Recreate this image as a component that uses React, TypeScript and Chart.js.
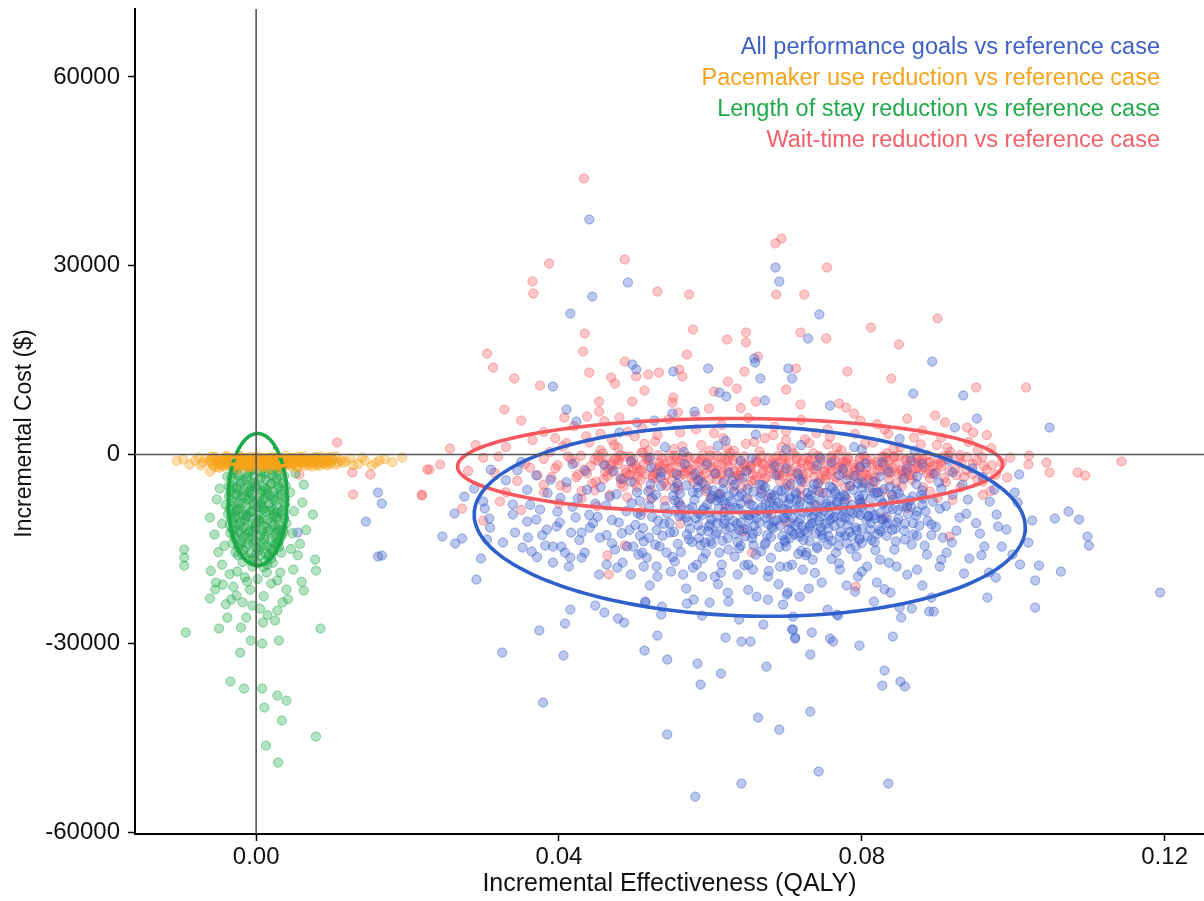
import React, { useEffect, useRef } from "react";
import { Chart, registerables } from "chart.js";

Chart.register(...registerables);

const xTicks = [0, 0.04, 0.08, 0.12];
const yTicks = [-60000, -30000, 0, 30000, 60000];
const xTitle = "Incremental Effectiveness (QALY)";
const yTitle = "Incremental Cost ($)";
const seriesNames = [
  "All performance goals vs reference case",
  "Pacemaker use reduction vs reference case",
  "Length of stay reduction vs reference case",
  "Wait-time reduction vs reference case",
];

// [QALY, $]
const allGoals: number[][] = [
  [0.0440,37350],[0.0491,27340],[0.0444,25110],[0.0415,22410],[0.0392,10810],[0.0410,7150],[0.0423,5250],[0.0497,14300],[0.0502,13510],[0.0551,13190],
  [0.0550,6520],[0.0579,6830],[0.0597,13670],[0.0612,9850],[0.0621,9220],[0.0658,15260],[0.0659,14620],[0.0666,12080],[0.0672,8580],[0.0686,29720],
  [0.0691,27500],[0.0703,13670],[0.0708,12080],[0.0503,5090],[0.0526,5400],[0.0744,22250],[0.0729,18440],[0.0758,7790],[0.0893,14780],[0.0868,9690],
  [0.0934,9380],[0.0952,5720],[0.0923,4290],[0.1048,4290],[0.1008,-3180],
  [0.0246,-13030],[0.0263,-14150],[0.0272,-13350],[0.0262,-9380],[0.0291,-19870],[0.0297,-16530],[0.0325,-31470],[0.0374,-27970],[0.0379,-39420],[0.0406,-31950],
  [0.0408,-26860],[0.0415,-24640],[0.0448,-24000],[0.0460,-25110],[0.0478,-26070],[0.0486,-26700],[0.0513,-31150],[0.0530,-28770],[0.0543,-44500],[0.0543,-32580],
  [0.0583,-33220],[0.0587,-36560],[0.0580,-54360],[0.0614,-34810],[0.0620,-29090],[0.0641,-29720],[0.0653,-29720],[0.0641,-52290],[0.0663,-41800],[0.0674,-33700],
  [0.0691,-43710],[0.0709,-27810],[0.0712,-29090],[0.0670,-27020],[0.0638,-26230],[0.0624,-23360],[0.0589,-25590],[0.0569,-23680],[0.0535,-25430],[0.0514,-23360],
  [0.0530,-19390],
  [0.1194,-21940],[0.1073,-9060],[0.1087,-10330],[0.1055,-10170],[0.1025,-10490],[0.1098,-13030],[0.1100,-14460],[0.1063,-18600],[0.1034,-17640],[0.1029,-20020],
  [0.1029,-24320],[0.1020,-13990],[0.1009,-17480],[0.0966,-22730],[0.0977,-19550],[0.0968,-18750],[0.0942,-16530],[0.0956,-12560],[0.0830,-34330],[0.0827,-36720],
  [0.0851,-36080],[0.0857,-36870],[0.0732,-40850],[0.0743,-50380],[0.0835,-52290],[0.0841,-28930],[0.0797,-30360],[0.0758,-29250],[0.0762,-29720],[0.0732,-31790],
  [0.0734,-28290],[0.0712,-29250],[0.0708,-27810],[0.0852,-25910],[0.0866,-24480],[0.0889,-24950],[0.0895,-24950],[0.0892,-22730],[0.0838,-21940],[0.0769,-25590],
  [0.0816,-23360],
  [0.0161,-6040],[0.0166,-7790],[0.0145,-10650],[0.0161,-16210],[0.0166,-16050],[0.0055,-12400],[-0.0012,-9700],
  [0.0275,-6680],[0.0288,-5400],[0.0300,-7470],[0.0302,-8580],[0.0308,-10170],[0.0309,-11610],[0.0305,-13510],[0.0326,-13990],[0.0339,-7950],[0.0339,-9540],
  [0.0342,-12400],[0.0352,-14790],[0.0364,-15420],[0.0358,-10650],[0.0370,-10330],[0.0375,-8740],[0.0382,-14470],[0.0392,-14630],[0.0392,-17170],[0.0403,-14630],
  [0.0408,-15580],[0.0415,-16380],[0.0413,-17810],[0.0430,-16380],[0.0434,-15580],[0.0384,-11930],[0.0397,-11450],[0.0416,-12400],[0.0430,-12400],[0.0441,-11610],
  [0.0454,-13200],[0.0463,-17490],[0.0453,-19080],[0.0477,-17970],[0.0484,-17170],[0.0495,-19080],[0.0498,-14630],[0.0516,-16380],[0.0529,-17810],[0.0542,-15580],
  [0.0553,-17010],[0.0564,-19080],[0.0577,-17970],[0.0589,-19400],[0.0606,-19400],[0.0615,-17490],[0.0632,-16220],[0.0636,-19080],[0.0656,-18290],[0.0676,-19400],
  [0.0692,-17810],[0.0702,-21940],[0.0676,-23050],[0.0661,-22580],[0.0623,-21940],[0.0599,-23530],[0.0578,-23050],[0.0536,-24170],[0.0514,-23530],
  [0.0892,-11130],[0.0907,-13200],[0.0919,-13990],[0.0929,-10020],[0.0940,-7160],[0.0969,-7470],[0.0978,-9540],[0.0980,-11450],[0.0991,-11930],[0.0985,-14630],
  [0.0999,-15900],[0.1002,-6040],[0.1006,-7630],[0.0873,-18290],[0.0903,-17810],[0.0912,-15580],[0.0886,-15900],[0.0820,-20350],[0.0795,-19400],[0.0791,-21780],
  [0.0771,-18290],[0.0747,-20350],[0.0718,-22580],[0.0701,-22260],[0.0696,-23850],[0.0709,-25760],[0.0755,-24650],[0.0767,-25440],[0.0850,-24330],
  [0.0902,-4450],[0.0920,-6360],[0.0933,-4770],[0.0894,-7470],[0.0873,-9060],[0.0854,-8270],[0.0846,-10810],[0.0857,-13510],[0.0828,-10330],[0.0811,-11930],
  [0.0797,-13510],[0.0784,-10330],[0.0771,-13040],[0.0741,-14630],[0.0727,-15580],[0.0735,-16700],[0.0718,-13040],[0.0731,-11450],[0.0745,-9860],[0.0758,-8270],
  [0.0771,-6680],[0.0797,-7160],[0.0820,-6040],[0.0837,-5090],[0.0867,-6680],[0.0873,-3500],[0.0859,-2390],[0.0824,-3500],[0.0801,-4450],[0.0780,-3980],
  [0.0758,-5090],[0.0735,-5570],[0.0714,-7160],[0.0701,-8750],[0.0705,-10810],[0.0702,-17810],[0.0722,-18290],[0.0793,-16220],[0.0824,-16700],[0.0846,-17810],
  [0.0807,-17810],
  [0.0455,-5200],[0.0462,-8100],[0.0470,-10400],[0.0476,-6300],[0.0483,-12500],[0.0489,-9000],[0.0495,-4300],[0.0501,-11200],[0.0507,-7400],[0.0512,-13800],
  [0.0518,-5800],[0.0523,-9900],[0.0529,-12000],[0.0534,-3600],[0.0540,-8300],[0.0546,-10900],[0.0551,-6500],[0.0557,-14200],[0.0562,-9500],[0.0568,-4900],
  [0.0573,-11800],[0.0579,-7200],[0.0585,-13300],[0.0590,-8800],[0.0596,-5500],[0.0601,-10300],[0.0607,-12700],[0.0612,-6900],[0.0618,-9200],[0.0624,-15100],
  [0.0629,-4100],[0.0635,-11000],[0.0640,-7800],[0.0646,-13000],[0.0651,-9700],[0.0657,-5900],[0.0662,-12200],[0.0668,-8400],[0.0673,-14000],[0.0679,-6300],
  [0.0684,-10600],[0.0690,-7700],[0.0695,-12900],[0.0701,-9400],[0.0706,-4700],[0.0712,-11300],[0.0717,-8100],[0.0723,-13600],[0.0728,-6100],[0.0734,-10000],
  [0.0739,-12500],[0.0745,-7300],[0.0750,-9000],[0.0756,-11700],[0.0761,-5300],[0.0767,-8700],[0.0772,-10800],[0.0778,-6700],[0.0784,-12300],[0.0789,-9300],
  [0.0795,-4600],[0.0800,-8000],[0.0806,-10400],[0.0812,-7000],[0.0817,-9600],[0.0823,-11900],[0.0829,-5500],[0.0835,-8500],[0.0841,-7200],[0.0848,-10200],
  [0.0472,-2600],[0.0490,-14600],[0.0508,-9600],[0.0522,-2100],[0.0537,-12900],[0.0553,-8900],[0.0566,-1500],[0.0581,-10100],[0.0594,-15700],[0.0606,-3000],
  [0.0620,-11900],[0.0633,-8500],[0.0648,-2600],[0.0660,-15900],[0.0674,-10100],[0.0687,-3300],[0.0699,-13900],[0.0713,-6300],[0.0726,-16000],[0.0741,-1800],
  [0.0755,-14300],[0.0770,-3300],[0.0785,-15000],[0.0798,-2000],[0.0813,-13600],[0.0827,-1200],[0.0840,-12000],[0.0855,-3900],[0.0868,-10900],[0.0880,-8000],
  [0.0892,-12800],[0.0905,-5400],[0.0440,-9600],[0.0425,-7000],[0.0410,-4400],[0.0398,-9100],[0.0385,-6100],[0.0370,-3300],[0.0358,-5600],[0.0345,-2500],
  [0.0558,-7600],[0.0571,-10600],[0.0584,-6100],[0.0598,-11400],[0.0611,-8600],[0.0625,-6600],[0.0638,-12000],[0.0652,-7900],[0.0665,-10800],[0.0678,-8900],
  [0.0692,-11300],[0.0705,-7100],[0.0719,-10200],[0.0732,-8300],[0.0746,-11600],[0.0759,-7400],[0.0773,-9900],[0.0787,-8000],[0.0600,-13800],[0.0640,-14500],
  [0.0680,-16400],[0.0720,-15300],[0.0760,-16600],[0.0800,-14100],[0.0650,-17500],[0.0590,-16500],[0.0550,-16300],[0.0510,-15600],[0.0470,-14100],[0.0760,-1200],
  [0.0700,-2200],[0.0640,-1000],[0.0580,-3100],[0.0520,-500],[0.0460,-1700],[0.0800,800],[0.0720,1500],[0.0620,2200],[0.0540,1200],[0.0880,-1500],
  [0.0920,-2800],[0.0960,-3600],[0.0480,3500],[0.0660,3200],[0.0850,2500],[0.0350,-1200],[0.0330,-4100],[0.0310,-2400],
  [0.0482,-3900],[0.0521,-4700],[0.0556,-3200],[0.0589,-4500],[0.0617,-5600],[0.0642,-3700],[0.0669,-4900],[0.0694,-5800],[0.0718,-3900],[0.0742,-4600],
  [0.0765,-5900],[0.0791,-3400],[0.0815,-4300],[0.0846,-5600],[0.0872,-4700],[0.0896,-3100],
  [0.0467,-6700],[0.0496,-7700],[0.0528,-6400],[0.0553,-7300],[0.0576,-8300],[0.0603,-6600],[0.0627,-7400],[0.0656,-8100],[0.0681,-6900],[0.0703,-7800],
  [0.0729,-7000],[0.0752,-8400],[0.0777,-7600],[0.0802,-6500],[0.0828,-7900],[0.0853,-7000],[0.0879,-6400],[0.0903,-8600],
  [0.0451,-9900],[0.0479,-10800],[0.0504,-9300],[0.0531,-10500],[0.0559,-9800],[0.0584,-11200],[0.0609,-9900],[0.0631,-10600],[0.0658,-9300],[0.0683,-11700],
  [0.0709,-10000],[0.0733,-11000],[0.0757,-9600],[0.0781,-11200],[0.0808,-9800],[0.0834,-10900],[0.0861,-9500],[0.0887,-10500],
  [0.0463,-12800],[0.0493,-12000],[0.0519,-13200],[0.0547,-12400],[0.0572,-13500],[0.0597,-12200],[0.0623,-13300],[0.0649,-11900],[0.0675,-12800],[0.0698,-13600],
  [0.0724,-12100],[0.0748,-13200],[0.0772,-12300],[0.0797,-13300],[0.0821,-12600],[0.0845,-13800],[0.0868,-12700],
  [0.0474,-15100],[0.0505,-15900],[0.0533,-14600],[0.0561,-15500],[0.0587,-14400],[0.0612,-15600],[0.0638,-14900],[0.0667,-15400],[0.0691,-14700],[0.0716,-15800],
  [0.0741,-14900],[0.0766,-15600],[0.0792,-14600],[0.0818,-15200],[0.0843,-15100],[0.0866,-14300],
  [0.0512,-17800],[0.0548,-18600],[0.0582,-17500],[0.0614,-18800],[0.0645,-17600],[0.0677,-18500],[0.0708,-17500],[0.0738,-18800],[0.0770,-17300],[0.0800,-18600],
  [0.0836,-17200],[0.0860,-19100],[0.0520,-20800],[0.0568,-21300],[0.0610,-20600],[0.0650,-21500],[0.0690,-20600],[0.0730,-21300],[0.0780,-20800],[0.0830,-21400],
  [0.0583,-5200],[0.0596,-7900],[0.0608,-12400],[0.0619,-10400],[0.0631,-5900],[0.0644,-9500],[0.0655,-13300],[0.0666,-6700],[0.0677,-11100],[0.0688,-8200],
  [0.0699,-5400],[0.0711,-12700],[0.0722,-9200],[0.0733,-6500],[0.0744,-10600],[0.0756,-13000],[0.0767,-7600],[0.0778,-10000],[0.0789,-5600],[0.0800,-11800],
  [0.0811,-8800],[0.0822,-6000],[0.0833,-12900],
  [0.0588,-9700],[0.0602,-14200],[0.0613,-6300],[0.0626,-11600],[0.0637,-8600],[0.0649,-5500],[0.0661,-10100],[0.0672,-14300],[0.0684,-6500],[0.0696,-9900],
  [0.0707,-12200],[0.0719,-7500],[0.0731,-13800],[0.0742,-9000],[0.0753,-6100],[0.0764,-11300],[0.0776,-8400],[0.0787,-13000],[0.0798,-9600],[0.0810,-5300],
  [0.0826,-10300],
  [0.0362,-8000],[0.0378,-12800],[0.0389,-4000],[0.0401,-10800],[0.0418,-8300],[0.0427,-13600],[0.0437,-5600],[0.0445,-10900],[0.0359,-13200],[0.0371,-16300],
  [0.0402,-6900],[0.0422,-10000],[0.0448,-7800],[0.0435,-2600],[0.0418,-1500],
  [0.0884,-9000],[0.0898,-11500],[0.0911,-8200],[0.0925,-12100],[0.0938,-9400],[0.0951,-10900],[0.0962,-14600],[0.0975,-5600],[0.0946,-2200],[0.0915,-1000],
  [0.0883,-14500],[0.0905,-16700],[0.0935,-18900],[0.0880,-20800],[0.0958,-16000],
  [0.0495,-1000],[0.0535,-2800],[0.0565,400],[0.0595,-1600],[0.0625,-2900],[0.0655,-600],[0.0685,-1800],[0.0715,-3000],[0.0745,-500],[0.0775,-2300],
  [0.0805,-1400],[0.0835,-2700],[0.0865,-1000],[0.0610,1400],[0.0700,800],[0.0790,1200],[0.0870,600],
  [0.0503,-6000],[0.0511,-11700],[0.0519,-8200],[0.0527,-14300],[0.0535,-5000],[0.0543,-9400],[0.0552,-12300],[0.0560,-6200],[0.0568,-10000],[0.0576,-13900],
  [0.0584,-4100],[0.0592,-8500],[0.0600,-11100],[0.0608,-7300],[0.0616,-13700],[0.0624,-9700],[0.0632,-4800],[0.0640,-10800],[0.0648,-7000],[0.0656,-12600],
  [0.0664,-8900],[0.0672,-5200],[0.0680,-13100],[0.0688,-10400],[0.0696,-6900],[0.0704,-11900],[0.0712,-8700],[0.0720,-4300],[0.0728,-12300],[0.0736,-9500],
  [0.0744,-5900],[0.0752,-11000],[0.0760,-13700],[0.0768,-7500],[0.0776,-9100],[0.0784,-5000],[0.0792,-11600],[0.0800,-8400],[0.0808,-13000],[0.0816,-6100],
  [0.0824,-9300],[0.0832,-11200],[0.0840,-6400],[0.0848,-8800],[0.0856,-12100],[0.0864,-7300],[0.0872,-9700],[0.0880,-5700],
  [0.0507,-12900],[0.0523,-6900],[0.0539,-11000],[0.0556,-4600],[0.0572,-8700],[0.0588,-12100],[0.0604,-5700],[0.0620,-7900],[0.0636,-13900],[0.0652,-10300],
  [0.0668,-6200],[0.0684,-8300],[0.0700,-14600],[0.0716,-10800],[0.0732,-7200],[0.0748,-12800],[0.0764,-9900],[0.0780,-14100],[0.0796,-6600],[0.0812,-10900],
  [0.0828,-7700],[0.0844,-11800],[0.0860,-8200],[0.0876,-11300],
  [0.0598,-9200],[0.0618,-11000],[0.0638,-6700],[0.0658,-11300],[0.0678,-7600],[0.0698,-10100],[0.0718,-12500],[0.0738,-8000],[0.0758,-10400],[0.0778,-12900],
  [0.0798,-7600],[0.0818,-10200],
  [0.0553,-5300],[0.0561,-8200],[0.0569,-12700],[0.0577,-6000],[0.0585,-9400],[0.0593,-14000],[0.0601,-7000],[0.0609,-10900],[0.0617,-4500],[0.0625,-8300],
  [0.0633,-12600],[0.0641,-6200],[0.0649,-9600],[0.0657,-14400],[0.0665,-4800],[0.0673,-7900],[0.0681,-11500],[0.0689,-5700],[0.0697,-8600],[0.0705,-13300],
  [0.0713,-6000],[0.0721,-11400],[0.0729,-9100],[0.0737,-4700],[0.0745,-12200],[0.0753,-7800],[0.0761,-10100],[0.0769,-14500],[0.0777,-6400],[0.0785,-8900],
  [0.0793,-12000],[0.0801,-5200],[0.0809,-9800],[0.0817,-13900],[0.0825,-7200],[0.0833,-10000],[0.0841,-8700],[0.0849,-6200],[0.0857,-11000],[0.0865,-8300],
  [0.0873,-12900],[0.0881,-7000],
  [0.0615,-7200],[0.0645,-11800],[0.0675,-9400],[0.0705,-6800],[0.0735,-10900],[0.0765,-6200],[0.0795,-9300],[0.0825,-12200],
];

const pacemaker: number[][] = [
  [-0.0096,-800],[-0.0081,-950],[-0.0073,-1750],[-0.0061,-2700],[0.0163,-950],[0.0193,-480],[0.0144,-950],[0.0153,-1750],[0.0170,-700],[0.0135,-1500],
  [0.0125,-600],[0.0115,-1300],[-0.0105,-1000],[-0.0088,-1600],[-0.0067,-600],
  [-0.0060,-900],[-0.0057,-1800],[-0.0054,-400],[-0.0051,-1300],[-0.0048,-2100],[-0.0045,-700],[-0.0042,-1500],[-0.0039,-200],[-0.0036,-1100],[-0.0033,-1900],
  [-0.0030,-600],[-0.0027,-1400],[-0.0024,-2300],[-0.0021,-300],[-0.0018,-1000],[-0.0015,-1700],[-0.0012,-500],[-0.0009,-1200],[-0.0006,-2000],[-0.0003,-800],
  [0.0000,-1500],[0.0003,-300],[0.0006,-1100],[0.0009,-1900],[0.0012,-600],[0.0015,-1400],[0.0018,-2200],[0.0021,-400],[0.0024,-1000],[0.0027,-1700],
  [0.0030,-700],[0.0033,-1300],[0.0036,-2000],[0.0039,-200],[0.0042,-900],[0.0045,-1600],[0.0048,-500],[0.0051,-1200],[0.0054,-1900],[0.0057,-800],
  [0.0060,-1400],[0.0063,-300],[0.0066,-1000],[0.0069,-1700],[0.0072,-600],[0.0075,-1300],[0.0078,-400],[0.0081,-1100],[0.0084,-1800],[0.0087,-700],
  [0.0090,-1200],[0.0093,-500],[0.0096,-1000],[0.0099,-1500],[0.0102,-800],[0.0105,-300],[0.0108,-1200],
  [-0.0058,-1300],[-0.0052,-800],[-0.0046,-1700],[-0.0040,-1000],[-0.0034,-500],[-0.0028,-1900],[-0.0022,-1200],[-0.0016,-600],[-0.0010,-1600],[-0.0004,-1000],
  [0.0002,-2100],[0.0008,-600],[0.0014,-1000],[0.0020,-1500],[0.0026,-500],[0.0032,-2200],[0.0038,-1300],[0.0044,-600],[0.0050,-1600],[0.0056,-300],
  [0.0062,-1200],[0.0068,-800],[0.0074,-1900],[0.0080,-500],[0.0086,-1400],[0.0092,-900],[0.0098,-400],
  [-0.0038,-1300],[-0.0031,-900],[-0.0025,-1500],[-0.0019,-700],[-0.0013,-1300],[-0.0007,-400],[-0.0001,-1100],[0.0005,-1700],[0.0011,-1000],[0.0017,-500],
  [0.0023,-1300],[0.0029,-1000],[0.0035,-600],[0.0041,-1300],[0.0047,-1000],
  [-0.0062,-1100],[-0.0056,-600],[-0.0050,-1500],[-0.0044,-900],[-0.0038,-1700],[-0.0032,-1200],[-0.0026,-700],[-0.0020,-1500],[-0.0014,-900],[-0.0008,-1800],
  [-0.0002,-600],[0.0004,-1300],[0.0010,-800],[0.0016,-1700],[0.0022,-1100],[0.0028,-400],[0.0034,-1500],[0.0040,-800],[0.0046,-1900],[0.0052,-700],
  [0.0058,-1200],[0.0064,-1800],[0.0070,-1000],[0.0076,-600],[0.0082,-1500],[0.0088,-1100],[0.0094,-1700],[0.0100,-600],[0.0106,-1600],[0.0112,-900],
  [-0.0059,-300],[-0.0053,-2000],[-0.0047,-1200],[-0.0041,-500],[-0.0035,-1600],[-0.0029,-1000],[-0.0023,-200],[-0.0017,-1300],[-0.0011,-2100],[-0.0005,-1400],
  [0.0001,-700],[0.0007,-1500],[0.0013,-2000],[0.0019,-1000],[0.0025,-1800],[0.0031,-500],[0.0037,-1000],[0.0043,-1500],[0.0049,-800],[0.0055,-2000],
  [0.0061,-700],[0.0067,-1300],[0.0073,-1000],[0.0079,-1700],[0.0085,-300],[0.0091,-1500],[0.0097,-1200],
  [-0.0049,-1000],[-0.0037,-800],[-0.0025,-1100],[-0.0013,-1700],[-0.0001,-400],[0.0011,-1400],[0.0023,-800],[0.0035,-1700],[0.0047,-1300],[0.0059,-500],
  [0.0071,-1400],[0.0083,-900],[-0.0043,-1900],[-0.0019,-1900],[0.0005,-900],[0.0029,-1400],[0.0053,-1000],[0.0077,-1200],[-0.0070,-1300],[-0.0076,-500],
  [0.0118,-1000],[0.0128,-1700],[0.0140,-500],[0.0158,-1300],[0.0180,-1200],
];

const lengthOfStay: number[][] = [
  [-0.0095,-15100],[-0.0095,-16370],[-0.0095,-17640],[-0.0093,-28290],[-0.0061,-10010],[-0.0055,-12720],[-0.0052,-7150],[-0.0048,-5400],[0.0075,-9540],[0.0063,-4770],
  [0.0061,-7630],[0.0078,-16690],[0.0079,-18440],[0.0063,-21620],[0.0085,-27650],[0.0040,-21460],[0.0030,-29560],[0.0025,-26380],[0.0028,-24790],[0.0009,-26700],
  [0.0008,-30040],[-0.0007,-29560],[-0.0021,-31470],[-0.0020,-27500],[-0.0013,-25910],[-0.0038,-25910],[-0.0049,-27650],[-0.0061,-22890],[-0.0033,-23050],[-0.0054,-21460],
  [-0.0053,-20340],[-0.0044,-20660],[-0.0026,-22410],[-0.0005,-24000],[0.0005,-24480],[-0.0034,-36080],[-0.0016,-37190],[0.0008,-37190],[0.0028,-38300],[0.0040,-39100],
  [0.0011,-40210],[0.0034,-42280],[0.0079,-44820],[0.0013,-46250],[0.0029,-48950],
  [-0.0025,-18600],[-0.0012,-20180],[0.0014,-18750],[0.0032,-18750],[0.0049,-18280],
  [-0.0042,-14500],[-0.0045,-11000],[-0.0040,-8000],[0.0045,-6000],[0.0050,-9000],[0.0048,-12500],[0.0046,-15000],[0.0052,-3000],[-0.0038,-3500],[0.0066,-12000],
  [0.0058,-14200],[-0.0060,-18500],[0.0060,-20200],[-0.0015,-19500],[0.0020,-20500],[0.0035,-23500],[-0.0030,-21000],
  [-0.0030,-2500],[-0.0020,-4200],[-0.0010,-3000],[0.0000,-5200],[0.0010,-2200],[0.0020,-4600],[0.0030,-3300],[-0.0028,-6300],[-0.0018,-7800],[-0.0008,-6800],
  [0.0002,-8400],[0.0012,-7000],[0.0022,-8900],[0.0032,-6500],[-0.0032,-9500],[-0.0022,-10800],[-0.0012,-9700],[-0.0002,-11500],[0.0008,-10300],[0.0018,-12000],
  [0.0028,-10200],[-0.0029,-12800],[-0.0019,-14000],[-0.0009,-13200],[0.0001,-14800],[0.0011,-13500],[0.0021,-15200],[0.0031,-13600],[-0.0024,-16000],[-0.0004,-16500],
  [0.0016,-16200],[-0.0035,-11200],[0.0036,-11800],[-0.0015,-1500],[0.0015,-1300],[0.0005,-3800],[-0.0005,-9000],[0.0015,-5600],[-0.0025,-8700],[0.0025,-14200],
  [-0.0008,-12100],[0.0006,-6100],[-0.0016,-5600],[0.0026,-2000],[-0.0036,-5000],[0.0038,-8000],[0.0000,-1200],[0.0004,-10600],[-0.0020,-12300],[0.0024,-11200],
  [-0.0028,-2000],[-0.0016,-1800],[-0.0004,-2300],[0.0008,-1700],[0.0020,-2400],[0.0032,-1900],
  [-0.0033,-3600],[-0.0023,-3300],[-0.0013,-3900],[-0.0003,-3200],[0.0007,-3700],[0.0017,-3100],[0.0027,-3800],[0.0037,-3400],
  [-0.0030,-5100],[-0.0021,-4700],[-0.0011,-5300],[-0.0001,-4800],[0.0009,-5200],[0.0019,-4700],[0.0029,-5300],[0.0039,-5000],
  [-0.0036,-6600],[-0.0026,-6200],[-0.0016,-6700],[-0.0006,-6300],[0.0004,-6800],[0.0014,-6200],[0.0024,-6700],[0.0034,-6300],
  [-0.0033,-8100],[-0.0023,-7700],[-0.0013,-8200],[-0.0003,-7800],[0.0007,-8300],[0.0017,-7700],[0.0027,-8200],[0.0037,-7800],
  [-0.0037,-9500],[-0.0027,-9100],[-0.0017,-9600],[-0.0007,-9200],[0.0003,-9700],[0.0013,-9100],[0.0023,-9600],[0.0033,-9200],
  [-0.0030,-11000],[-0.0020,-10700],[-0.0010,-11200],[0.0000,-10800],[0.0010,-11300],[0.0020,-10700],[0.0030,-11200],[0.0040,-10900],
  [-0.0034,-12500],[-0.0024,-12200],[-0.0014,-12700],[-0.0004,-12300],[0.0006,-12800],[0.0016,-12200],[0.0026,-12700],[0.0036,-12300],
  [-0.0031,-14100],[-0.0021,-13700],[-0.0011,-14200],[-0.0001,-13800],[0.0009,-14300],[0.0019,-13700],[0.0029,-14200],
  [-0.0027,-15500],[-0.0017,-15200],[-0.0007,-15700],[0.0003,-15300],[0.0013,-15800],[0.0023,-15200],[0.0033,-15600],
  [-0.0018,-17100],[-0.0008,-16800],[0.0002,-17300],[0.0012,-16900],[0.0022,-17200],
  [-0.0045,-17500],[-0.0035,-19000],[-0.0008,-21500],[0.0010,-22500],[0.0028,-20000],[0.0042,-23000],[-0.0018,-23500],[0.0055,-16000],[-0.0050,-15500],[0.0002,-19800],
  [-0.0040,-23800],[0.0015,-25500],
  [-0.0025,-2900],[-0.0007,-2600],[0.0011,-3000],[0.0028,-2700],
  [-0.0031,-4300],[-0.0017,-4100],[-0.0002,-4400],[0.0013,-4000],[0.0026,-4300],[0.0036,-4500],
  [-0.0034,-5800],[-0.0024,-5600],[-0.0008,-5800],[0.0008,-5700],[0.0022,-5900],[0.0033,-5700],
  [-0.0032,-7300],[-0.0019,-7000],[-0.0005,-7400],[0.0010,-7100],[0.0025,-7400],[0.0038,-7000],
  [-0.0035,-8700],[-0.0021,-8600],[-0.0007,-8900],[0.0008,-8700],[0.0020,-8400],[0.0035,-8800],
  [-0.0029,-10100],[-0.0015,-10300],[0.0001,-10100],[0.0015,-10400],[0.0027,-9900],[0.0037,-10200],
  [-0.0032,-11800],[-0.0017,-11600],[-0.0001,-11900],[0.0014,-11600],[0.0029,-11800],
  [-0.0028,-13300],[-0.0016,-13100],[-0.0003,-13500],[0.0012,-13000],[0.0026,-13300],[0.0034,-12900],
  [-0.0024,-14800],[-0.0013,-14700],[0.0006,-14600],[0.0019,-14900],[0.0030,-14700],
  [-0.0013,-16300],[0.0006,-16000],[0.0020,-16500],[-0.0005,-17800],[0.0010,-17900],
  [-0.0010,-6000],[0.0017,-9000],[-0.0022,-11300],[0.0005,-13000],[-0.0005,-4600],[0.0030,-12000],[-0.0027,-9800],[0.0002,-7600],
  [-0.0030,-3000],[-0.0012,-3500],[0.0005,-2700],[0.0022,-3300],[-0.0026,-5300],[-0.0006,-5000],[0.0012,-5400],[0.0030,-4900],[-0.0030,-7700],[-0.0010,-7200],
  [0.0006,-7800],[0.0024,-7100],[-0.0033,-10200],[-0.0013,-9900],[0.0004,-10400],[0.0022,-10000],[0.0035,-9600],[-0.0030,-12000],[-0.0010,-12500],[0.0008,-12000],
  [0.0026,-12400],[-0.0022,-14400],[-0.0004,-14100],[0.0014,-14500],[0.0028,-13900],[-0.0018,-15900],[0.0000,-15600],[0.0017,-15800],[-0.0001,-16900],[0.0015,-17500],
  [-0.0020,-6500],[0.0018,-6500],[-0.0024,-9000],[0.0028,-9100],[-0.0005,-11000],[0.0010,-8700],
];

const waitTime: number[][] = [
  [0.0433,43860],[0.0305,16050],[0.0313,13830],[0.0341,12080],[0.0328,7150],[0.0365,27500],[0.0366,25590],[0.0387,30350],[0.0375,10970],[0.0434,19230],
  [0.0432,16370],[0.0440,13030],[0.0453,8420],[0.0453,6830],[0.0437,6040],[0.0407,5880],[0.0487,31000],[0.0469,12240],[0.0474,11280],[0.0480,5880],
  [0.0487,14780],[0.0497,8420],[0.0502,12400],[0.0513,10170],[0.0518,12720],[0.0532,13030],[0.0530,25900],[0.0551,9060],[0.0550,8260],[0.0557,6680],
  [0.0559,13510],[0.0563,12400],[0.0569,15890],[0.0572,25430],[0.0577,19870],[0.0598,7310],[0.0605,10010],[0.0622,18280],[0.0623,11600],[0.0635,10490],
  [0.0645,13190],[0.0647,19390],[0.0647,17800],[0.0660,8420],[0.0663,15580],[0.0686,33540],[0.0694,34330],[0.0687,25430],[0.0700,10330],[0.0713,13670],
  [0.0719,19390],[0.0754,29720],[0.0724,25430],[0.0753,18440],[0.0812,20180],[0.0849,17480],[0.0900,21620],[0.0781,13190],[0.0839,12080],[0.0719,7950],
  [0.0770,8100],[0.0779,7470],[0.0951,10650],[0.1017,10650],[0.0897,6200],[0.0939,4290],[0.0947,3500],[0.1143,-1110],[0.1085,-2860],[0.1095,-3340],
  [0.1044,-1270],[0.1048,-2860],[0.1021,-160],[0.1020,-1590],[0.0996,-480],[0.0992,-3650],[0.0798,5400],[0.0830,3970],
  [0.0256,950],[0.0229,-2380],[0.0243,-1590],[0.0219,-6360],[0.0272,-8580],[0.0300,-10490],[0.0322,-7470],[0.0464,-16050],[0.0466,-19070],[0.0487,-14460],
  [0.0107,1910],[0.0127,-2860],[0.0128,-6360],[0.0151,-3180],[0.0219,-6520],[0.0226,-2380],[0.0057,-3180],
  [0.0792,-20980],[0.0916,-13040],[0.0655,-15580],[0.0643,-12240],
  [0.0300,-500],[0.0315,-2900],[0.0330,1200],[0.0345,-4200],[0.0355,-1500],[0.0365,2300],[0.0372,-3300],[0.0380,-6000],[0.0388,400],[0.0395,-2200],
  [0.0402,-4900],[0.0410,1800],[0.0416,-700],[0.0423,-3600],[0.0430,-5800],[0.0436,2900],[0.0442,-1800],[0.0449,-4300],[0.0455,700],[0.0461,-2700],
  [0.0467,-6400],[0.0473,1500],[0.0479,-900],[0.0485,-3900],[0.0491,3600],[0.0497,-2100],[0.0503,-5200],[0.0509,300],[0.0515,-3100],[0.0521,-7100],
  [0.0527,2100],[0.0533,-1300],[0.0539,-4500],[0.0545,-200],[0.0551,-2900],[0.0557,-5600],[0.0563,1300],[0.0569,-1900],[0.0575,-3700],[0.0581,4000],
  [0.0587,-800],[0.0593,-4900],[0.0599,600],[0.0605,-2500],[0.0611,-6300],[0.0617,2600],[0.0623,-1100],[0.0629,-3500],[0.0635,-400],[0.0641,-5300],
  [0.0647,1700],[0.0653,-2300],[0.0659,-4100],[0.0665,500],[0.0671,-1600],[0.0677,-6800],[0.0683,3100],[0.0689,-3000],[0.0695,-700],[0.0701,-4700],
  [0.0707,1000],[0.0713,-2000],[0.0719,-5500],[0.0725,2400],[0.0731,-1000],[0.0737,-3600],[0.0743,-200],[0.0749,-6100],[0.0755,1600],[0.0761,-2600],
  [0.0767,-4400],[0.0773,700],[0.0779,-1400],[0.0785,-5000],[0.0791,3300],[0.0797,-2200],[0.0803,-300],[0.0809,-3900],[0.0815,1900],[0.0821,-1700],
  [0.0827,-5900],[0.0833,200],[0.0839,-2800],[0.0845,-4600],[0.0851,1200],[0.0857,-900],[0.0863,-3300],[0.0869,2700],[0.0875,-2000],[0.0881,-5200],
  [0.0887,-100],[0.0893,-3000],[0.0899,1500],[0.0905,-1200],[0.0911,-4400],[0.0917,400],[0.0923,-2300],[0.0929,-600],[0.0935,-3600],[0.0941,2000],
  [0.0947,-1500],[0.0953,-4000],[0.0959,-400],[0.0965,-2400],[0.0971,1000],[0.0977,-3200],
  [0.0452,-1000],[0.0464,-3400],[0.0476,-500],[0.0488,-2400],[0.0500,-4400],[0.0512,-1500],[0.0524,-3800],[0.0536,-600],[0.0548,-2000],[0.0560,-3400],
  [0.0572,-400],[0.0584,-2800],[0.0596,-1300],[0.0608,-4000],[0.0620,-800],[0.0632,-2600],[0.0644,-1500],[0.0656,-3200],[0.0668,-300],[0.0680,-2200],
  [0.0692,-4200],[0.0704,-1200],[0.0716,-3300],[0.0728,-500],[0.0740,-2400],[0.0752,-3900],[0.0764,-900],[0.0776,-2900],[0.0788,-1600],[0.0800,-3400],
  [0.0812,-700],[0.0824,-2600],[0.0836,-1000],[0.0848,-3100],[0.0860,-1800],[0.0872,-600],
  [0.0458,200],[0.0470,-1900],[0.0482,-4600],[0.0494,-300],[0.0506,-2800],[0.0518,600],[0.0530,-2500],[0.0542,-5000],[0.0554,-1000],[0.0566,-2700],
  [0.0578,-4400],[0.0590,-100],[0.0602,-2000],[0.0614,-3200],[0.0626,300],[0.0638,-1900],[0.0650,-4800],[0.0662,-1100],[0.0674,-3700],[0.0686,-1300],
  [0.0698,-2600],[0.0710,200],[0.0722,-3900],[0.0734,-1800],[0.0746,-700],[0.0758,-3200],[0.0770,-1900],[0.0782,-400],[0.0794,-3800],[0.0806,-2000],
  [0.0818,-4300],[0.0830,-1400],[0.0842,-300],[0.0854,-2500],[0.0866,-4000],[0.0878,-1100],[0.0890,-2500],
  [0.0420,4500],[0.0460,5300],[0.0510,4200],[0.0545,5600],[0.0580,6200],[0.0615,4700],[0.0650,5800],[0.0685,4400],[0.0720,5500],[0.0755,4000],
  [0.0790,6500],[0.0820,4800],[0.0860,5700],[0.0880,3800],[0.0910,5100],[0.0640,7400],[0.0560,3500],[0.0700,3700],[0.0740,3400],[0.0500,2900],
  [0.0380,3600],[0.0350,5400],
  [0.0400,-7800],[0.0450,-8200],[0.0510,-9000],[0.0560,-7900],[0.0620,-8600],[0.0680,-9500],[0.0740,-8100],[0.0800,-7600],[0.0860,-8500],[0.0920,-7200],
  [0.0560,-11000],[0.0700,-10700],[0.0350,-8800],[0.0970,-5800],[0.0830,-10000],
  [0.0405,1300],[0.0440,1900],[0.0478,1100],[0.0513,1700],[0.0552,900],[0.0588,1500],[0.0622,1000],[0.0658,2000],[0.0694,1200],[0.0731,1800],
  [0.0767,1100],[0.0804,1700],[0.0842,900],[0.0878,1600],[0.0913,1100],[0.0953,700],
  [0.0380,-700],[0.0412,-300],[0.0447,-800],[0.0482,-100],[0.0517,-600],[0.0553,-200],[0.0589,-900],[0.0624,-300],[0.0660,-800],[0.0696,-200],
  [0.0733,-700],[0.0769,-100],[0.0806,-800],[0.0843,-400],[0.0880,-700],[0.0915,-200],[0.0952,-900],[0.0985,-1300],
  [0.0362,-2100],[0.0398,-1700],[0.0433,-2400],[0.0468,-1600],[0.0503,-2200],[0.0539,-1500],[0.0575,-2400],[0.0610,-1700],[0.0647,-2500],[0.0682,-1500],
  [0.0719,-2300],[0.0755,-1700],[0.0792,-2500],[0.0829,-1800],[0.0866,-2300],[0.0901,-1600],[0.0938,-2500],[0.0972,-1700],
  [0.0390,-3600],[0.0425,-3200],[0.0459,-3900],[0.0494,-3300],[0.0529,-3700],[0.0565,-3100],[0.0600,-3900],[0.0636,-3300],[0.0672,-3800],[0.0708,-3200],
  [0.0745,-3900],[0.0781,-3300],[0.0817,-3700],[0.0853,-3200],[0.0890,-3800],[0.0925,-3300],[0.0960,-4300],
  [0.0410,-5300],[0.0447,-5700],[0.0485,-5100],[0.0521,-5600],[0.0557,-5000],[0.0594,-5800],[0.0630,-5100],[0.0667,-5600],[0.0704,-5000],[0.0741,-5700],
  [0.0778,-5200],[0.0815,-5400],[0.0853,-5000],[0.0890,-5900],[0.0930,-5200],
  [0.0498,-800],[0.0528,-3000],[0.0560,-1200],[0.0587,-3600],[0.0614,-500],[0.0640,-2700],[0.0668,-1400],[0.0695,-3400],[0.0722,-900],[0.0750,-2700],
  [0.0778,-1100],[0.0804,-3000],[0.0832,-500],[0.0860,-2700],[0.0888,-1300],
  [0.0508,-4000],[0.0545,-2300],[0.0580,-600],[0.0618,-4200],[0.0652,-1800],[0.0688,-300],[0.0725,-4400],[0.0760,-1600],[0.0797,-700],[0.0836,-4100],
  [0.0872,-2200],[0.0908,-300],
  [0.0395,2600],[0.0455,3300],[0.0530,3100],[0.0605,3400],[0.0672,2600],[0.0758,2800],[0.0835,3300],[0.0905,2700],[0.0965,3100],[0.0470,2300],
  [0.0700,2300],[0.0930,-100],
  [0.0430,-7000],[0.0490,-6800],[0.0540,-7300],[0.0600,-7000],[0.0650,-7200],[0.0720,-6600],[0.0780,-7100],[0.0840,-6600],[0.0900,-6900],[0.0960,-6400],
  [0.0380,-4800],[0.0330,-6000],[0.0320,-300],[0.0290,1500],[0.0280,-2600],
  [0.0421,-1300],[0.0437,-3000],[0.0451,-200],[0.0466,-2300],[0.0481,-3700],[0.0496,-1200],[0.0511,300],[0.0526,-2000],[0.0541,-3300],[0.0556,-700],
  [0.0571,-2500],[0.0586,-4100],[0.0601,-1000],[0.0616,-2900],[0.0631,600],[0.0646,-1700],[0.0661,-3500],[0.0676,-500],[0.0691,-2100],[0.0706,-3800],
  [0.0721,-1400],[0.0736,200],[0.0751,-2600],[0.0766,-3600],[0.0781,-800],[0.0796,-1900],[0.0811,-3200],[0.0826,-400],[0.0841,-2100],[0.0856,-3700],
  [0.0871,-1300],[0.0886,-3000],[0.0901,-600],[0.0916,-2600],[0.0931,-1400],[0.0946,-3100],[0.0961,-1800],
  [0.0429,-200],[0.0459,-1400],[0.0489,-2900],[0.0519,-900],[0.0549,-4100],[0.0579,-1700],[0.0609,-200],[0.0639,-3800],[0.0669,-2500],[0.0699,-600],
  [0.0729,-2900],[0.0759,-500],[0.0789,-3400],[0.0819,-1200],[0.0849,-200],[0.0879,-2400],[0.0909,-3700],[0.0939,-400],
  [0.0444,-4600],[0.0474,-800],[0.0504,-3500],[0.0534,-1900],[0.0564,-200],[0.0594,-3000],[0.0624,-1900],[0.0654,-4200],[0.0684,-3100],[0.0714,-700],
  [0.0744,-4300],[0.0774,-2000],[0.0804,-4600],[0.0834,-2400],[0.0864,-500],[0.0894,-1800],
  [0.0463,-600],[0.0470,-2800],[0.0478,-1500],[0.0486,-300],[0.0493,-3200],[0.0501,-1700],[0.0509,-2500],[0.0516,-800],[0.0524,-3300],[0.0531,-100],
  [0.0539,-2200],[0.0547,-1000],[0.0554,-3000],[0.0562,-2000],[0.0569,-500],[0.0577,-3300],[0.0585,-1200],[0.0592,-2300],[0.0600,-200],[0.0607,-3100],
  [0.0615,-1500],[0.0623,-2700],[0.0630,-900],[0.0638,-3400],[0.0645,-300],[0.0653,-2000],[0.0661,-1200],[0.0668,-3000],[0.0676,-2200],[0.0683,-700],
  [0.0691,-3300],[0.0699,-1600],[0.0706,-2600],[0.0714,-400],[0.0722,-3100],[0.0729,-1700],[0.0737,-2300],[0.0745,-1000],[0.0752,-3300],[0.0760,-200],
  [0.0768,-2200],[0.0775,-1300],[0.0783,-3000],[0.0790,-2100],[0.0798,-500],[0.0806,-3200],[0.0813,-1600],[0.0821,-2400],[0.0829,-300],[0.0836,-3000],
  [0.0844,-1600],[0.0852,-2500],[0.0859,-900],[0.0867,-3300],[0.0875,-500],[0.0882,-2000],[0.0890,-1200],[0.0898,-2800],[0.0905,-1900],[0.0913,-700],
];

// confidence ellipses: [centre QALY, centre $, radius QALY, radius $, tilt $]
const allGoalsEllipse = [0.0652, -10570, 0.0364, 15100, -1030];
const pacemakerEllipse = [0.0020, -1000, 0.0073, 800, 0];
const lengthOfStayEllipse = [0.0002, -7150, 0.0039, 10490, 0];
const waitTimeEllipse = [0.0626, -1750, 0.0360, 7470, 160];

const BLUE = [55, 92, 202];
const ORANGE = [247, 160, 22];
const GREEN = [32, 170, 74];
const RED = [248, 88, 94];
const legendColors = ["#3d5fc6", "#f5a31b", "#22a84a", "#f4606a"];

const FONT = '"Liberation Sans", Arial, Helvetica, sans-serif';

function rgba(c: number[], a: number) {
  return `rgba(${c[0]},${c[1]},${c[2]},${a})`;
}

function toPoints(arr: number[][]) {
  return arr.map(([x, y]) => ({ x, y }));
}

function ellipsePoints(p: number[]) {
  const pts: { x: number; y: number }[] = [];
  const n = 160;
  for (let i = 0; i <= n; i++) {
    const t = (i / n) * Math.PI * 2;
    pts.push({
      x: p[0] + p[2] * Math.cos(t),
      y: p[1] + p[3] * Math.sin(t) + p[4] * Math.cos(t),
    });
  }
  return pts;
}

function pointSet(label: string, arr: number[][], c: number[], order: number) {
  return {
    label,
    data: toPoints(arr),
    backgroundColor: rgba(c, 0.34),
    borderColor: rgba(c, 0.48),
    borderWidth: 1,
    pointRadius: 4.6,
    pointHoverRadius: 4.6,
    showLine: false,
    order,
  };
}

function ellipseSet(label: string, p: number[], color: string, order: number) {
  return {
    label,
    data: ellipsePoints(p),
    showLine: true,
    borderColor: color,
    backgroundColor: color,
    borderWidth: 3.6,
    pointRadius: 0,
    pointHoverRadius: 0,
    fill: false,
    tension: 0,
    order,
  };
}

const refLinesPlugin = {
  id: "refLines",
  afterDatasetsDraw(chart: any) {
    const { ctx, chartArea, scales } = chart;
    const x0 = scales.x.getPixelForValue(0);
    const y0 = scales.y.getPixelForValue(0);
    ctx.save();
    ctx.strokeStyle = "#555555";
    ctx.lineWidth = 1.6;
    ctx.beginPath();
    ctx.moveTo(x0, chartArea.top);
    ctx.lineTo(x0, chartArea.bottom);
    ctx.moveTo(chartArea.left, y0);
    ctx.lineTo(chartArea.right, y0);
    ctx.stroke();
    ctx.restore();
  },
};

const textPlugin = {
  id: "textLegend",
  afterDraw(chart: any) {
    const { ctx, chartArea } = chart;
    ctx.save();
    ctx.font = `23.5px ${FONT}`;
    ctx.textAlign = "right";
    ctx.textBaseline = "middle";
    seriesNames.forEach((t, i) => {
      ctx.fillStyle = legendColors[i];
      ctx.fillText(t, chartArea.right - 44, 48 + i * 31);
    });
    // y axis title
    ctx.fillStyle = "#111";
    ctx.font = `23px ${FONT}`;
    ctx.textAlign = "center";
    ctx.translate(25, chartArea.top + (chartArea.bottom - chartArea.top) / 2 + 12);
    ctx.rotate(-Math.PI / 2);
    ctx.fillText(yTitle, 0, 0);
    ctx.restore();
  },
};

export default function App() {
  const ref = useRef<HTMLCanvasElement | null>(null);

  useEffect(() => {
    if (!ref.current) return;
    const chart = new Chart(ref.current, {
      type: "scatter",
      data: {
        datasets: [
          ellipseSet("pacemakerEllipse", pacemakerEllipse, "#f7a31a", 0),
          ellipseSet("lengthOfStayEllipse", lengthOfStayEllipse, "#1caa48", 1),
          ellipseSet("allGoalsEllipse", allGoalsEllipse, "#2f5fcb", 2),
          ellipseSet("waitTimeEllipse", waitTimeEllipse, "#f5575c", 3),
          pointSet(seriesNames[1], pacemaker, ORANGE, 4),
          pointSet(seriesNames[2], lengthOfStay, GREEN, 5),
          pointSet(seriesNames[0], allGoals, BLUE, 6),
          pointSet(seriesNames[3], waitTime, RED, 7),
        ] as any,
      },
      options: {
        animation: false,
        responsive: false,
        devicePixelRatio: 1,
        layout: { autoPadding: false, padding: { top: 9, left: 0, right: 0, bottom: 0 } },
        plugins: {
          legend: { display: false },
          tooltip: { enabled: false },
        },
        scales: {
          x: {
            type: "linear",
            min: -0.016,
            max: 0.1252,
            afterBuildTicks: (s: any) => {
              s.ticks = xTicks.map((v) => ({ value: v }));
            },
            afterFit: (s: any) => {
              s.height = 67;
              s.paddingLeft = 0;
              s.paddingRight = 0;
            },
            ticks: {
              callback: (v: any) => Number(v).toFixed(2),
              font: { family: FONT, size: 24 },
              color: "#111",
              padding: 2,
              maxRotation: 0,
            },
            grid: {
              drawOnChartArea: false,
              drawTicks: true,
              tickLength: 7,
              tickColor: "#000",
              tickWidth: 1.5,
            },
            border: { display: true, color: "#000", width: 2 },
            title: {
              display: true,
              text: xTitle,
              font: { family: FONT, size: 25 },
              color: "#111",
              padding: { top: 0, bottom: 2 },
            },
          },
          y: {
            type: "linear",
            min: -60300,
            max: 70800,
            afterBuildTicks: (s: any) => {
              s.ticks = yTicks.map((v) => ({ value: v }));
            },
            afterFit: (s: any) => {
              s.width = 135;
              s.paddingTop = 0;
              s.paddingBottom = 0;
            },
            ticks: {
              callback: (v: any) => String(v),
              font: { family: FONT, size: 24 },
              color: "#111",
              padding: 8,
            },
            grid: {
              drawOnChartArea: false,
              drawTicks: true,
              tickLength: 7,
              tickColor: "#000",
              tickWidth: 1.5,
            },
            border: { display: true, color: "#000", width: 2 },
            title: { display: false },
          },
        },
      } as any,
      plugins: [refLinesPlugin, textPlugin],
    });
    return () => chart.destroy();
  }, []);

  return (
    <div style={{ position: "absolute", left: 0, top: 0, width: 1204, height: 901, background: "#fff" }}>
      <canvas ref={ref} width={1204} height={901} />
    </div>
  );
}
